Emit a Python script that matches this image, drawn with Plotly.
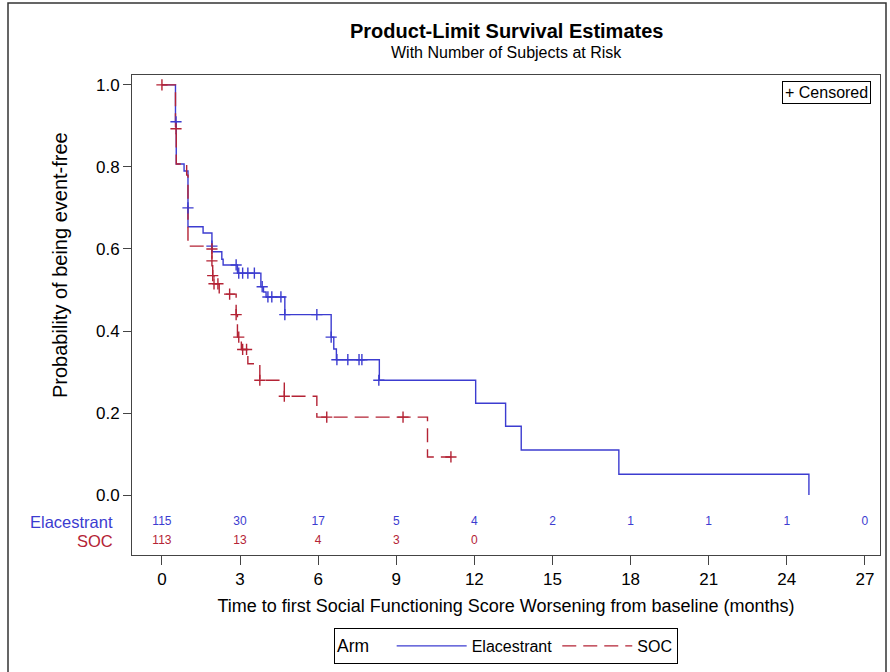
import plotly.graph_objects as go

# ---- data ----
ela_t = [0, 0.52, 0.55, 0.85, 1.0, 1.58, 1.92, 2.3, 2.35, 2.9, 3.8, 3.9, 4.0, 4.72,
         6.5, 6.6, 6.7, 8.35, 12.05, 13.2, 13.8, 17.55, 24.85]
ela_s = [1.0, 0.91, 0.807, 0.79, 0.654, 0.639, 0.593, 0.575, 0.561, 0.541, 0.508, 0.495,
         0.483, 0.44, 0.385, 0.356, 0.33, 0.28, 0.224, 0.168, 0.11, 0.051, 0.0]
ela_cens_t = [0.54, 1.0, 1.92, 2.85, 2.95, 3.1, 3.3, 3.55, 3.85, 4.07, 4.22, 4.57, 4.72,
              5.95, 6.5, 6.72, 7.14, 7.57, 7.68, 8.33]
ela_cens_s = [0.91, 0.70, 0.607, 0.561, 0.541, 0.541, 0.541, 0.541, 0.508, 0.483, 0.483,
              0.483, 0.44, 0.44, 0.385, 0.33, 0.33, 0.33, 0.33, 0.28]

soc_t = [0, 0.52, 0.55, 0.95, 1.0, 1.92, 1.95, 2.0, 2.2, 2.85, 2.9, 3.05, 3.3, 3.76,
         4.7, 5.95, 10.2, 11.1]
soc_s = [1.0, 0.893, 0.807, 0.78, 0.607, 0.571, 0.535, 0.515, 0.49, 0.44, 0.385, 0.355,
         0.32, 0.28, 0.241, 0.19, 0.093, 0.093]
soc_cens_t = [0.0, 0.54, 1.92, 1.92, 1.95, 2.0, 2.15, 2.6, 2.85, 2.95, 3.1, 3.25, 3.76,
              4.7, 6.33, 9.26, 11.1]
soc_cens_s = [1.0, 0.893, 0.60, 0.571, 0.535, 0.515, 0.515, 0.49, 0.44, 0.385, 0.355,
              0.355, 0.28, 0.241, 0.19, 0.19, 0.093]

risk_times = [0, 3, 6, 9, 12, 15, 18, 21, 24, 27]
ela_risk = [115, 30, 17, 5, 4, 2, 1, 1, 1, 0]
soc_risk = [113, 13, 4, 3, 0]

x_ticks = [0, 3, 6, 9, 12, 15, 18, 21, 24, 27]
y_ticks = [0.0, 0.2, 0.4, 0.6, 0.8, 1.0]

BLUE = "#3c3cd0"
RED = "#b42335"
FONT = "Arial, Liberation Sans, sans-serif"

fig = go.Figure()
fig.add_trace(go.Scatter(x=ela_t, y=ela_s, mode="lines", line_shape="hv",
                         line=dict(color=BLUE, width=1.4), name="Elacestrant"))
fig.add_trace(go.Scatter(x=soc_t, y=soc_s, mode="lines", line_shape="hv",
                         line=dict(color=RED, width=1.4, dash="14px,7px"), name="SOC"))
fig.add_trace(go.Scatter(x=ela_cens_t, y=ela_cens_s, mode="markers", showlegend=False,
                         marker=dict(symbol="cross-thin", size=8,
                                     line=dict(color=BLUE, width=1.4))))
fig.add_trace(go.Scatter(x=soc_cens_t, y=soc_cens_s, mode="markers", showlegend=False,
                         marker=dict(symbol="cross-thin", size=8,
                                     line=dict(color=RED, width=1.4))))

# at-risk rows
fig.add_trace(go.Scatter(x=risk_times, y=[-0.066] * len(ela_risk), mode="text",
                         text=[str(v) for v in ela_risk], showlegend=False, cliponaxis=False,
                         textfont=dict(color=BLUE, size=12, family=FONT)))
fig.add_trace(go.Scatter(x=risk_times[:len(soc_risk)], y=[-0.112] * len(soc_risk), mode="text",
                         text=[str(v) for v in soc_risk], showlegend=False, cliponaxis=False,
                         textfont=dict(color=RED, size=12, family=FONT)))

L, R, T, B = 132, 10, 75, 117
W, H = 890, 672
pw, ph = W - L - R, H - T - B


def px(x):
    return (x - L) / pw


def py(y):
    return (H - B - y) / ph


fig.add_annotation(x=px(115), y=-0.066, xref="paper", yref="y", text="Elacestrant",
                   showarrow=False, xanchor="right", yanchor="middle",
                   font=dict(color=BLUE, size=16.5, family=FONT))
fig.add_annotation(x=px(115), y=-0.112, xref="paper", yref="y", text="SOC",
                   showarrow=False, xanchor="right", yanchor="middle",
                   font=dict(color=RED, size=16.5, family=FONT))

fig.add_annotation(x=0.5, y=py(31), xref="paper", yref="paper",
                   text="<b>Product-Limit Survival Estimates</b>", showarrow=False,
                   xanchor="center", yanchor="middle", font=dict(size=20, color="black", family=FONT))
fig.add_annotation(x=0.5, y=py(52), xref="paper", yref="paper",
                   text="With Number of Subjects at Risk", showarrow=False,
                   xanchor="center", yanchor="middle", font=dict(size=16, color="black", family=FONT))
fig.add_annotation(x=px(60), y=py(265), xref="paper", yref="paper",
                   text="Probability of being event-free", showarrow=False, textangle=-90,
                   xanchor="center", yanchor="middle", font=dict(size=20, color="black", family=FONT))
fig.add_annotation(x=px(826), y=py(92), xref="paper", yref="paper",
                   text="+ Censored", showarrow=False, xanchor="center", yanchor="middle",
                   bordercolor="black", borderwidth=1, borderpad=2, bgcolor="white",
                   font=dict(size=16, color="black", family=FONT))

# outer frame of the image
fig.add_shape(type="rect", xref="paper", yref="paper", x0=px(8), x1=px(886), y0=py(690), y1=py(3),
              line=dict(color="#333", width=1.5), layer="below")

fig.update_layout(
    width=W, height=H,
    margin=dict(l=L, r=R, t=T, b=B, autoexpand=False),
    paper_bgcolor="white", plot_bgcolor="white",
    font=dict(family=FONT, color="black", size=16),
    xaxis=dict(range=[-1.15, 27.58], tickvals=x_ticks, ticks="outside", ticklen=9,
               tickcolor="#444", showline=True, linecolor="#444", linewidth=1, mirror=True,
               showgrid=False, zeroline=False, tickfont=dict(size=17),
               title=dict(text="Time to first Social Functioning Score Worsening from baseline (months)",
                          font=dict(size=18), standoff=10)),
    yaxis=dict(range=[-0.146, 1.024], tickvals=y_ticks, tickformat=".1f", ticks="outside",
               ticklen=8, tickcolor="#444", showline=True, linecolor="#444", linewidth=1,
               mirror=True, showgrid=False, zeroline=False, tickfont=dict(size=17)),
    legend=dict(orientation="h", x=0.5, xanchor="center", y=py(646), yanchor="middle",
                bordercolor="black", borderwidth=1, bgcolor="white",
                title=dict(text="Arm   ", side="left", font=dict(size=17.5, family=FONT)),
                itemwidth=70, font=dict(size=16, family=FONT)),
)

fig.write_html("out.html")
